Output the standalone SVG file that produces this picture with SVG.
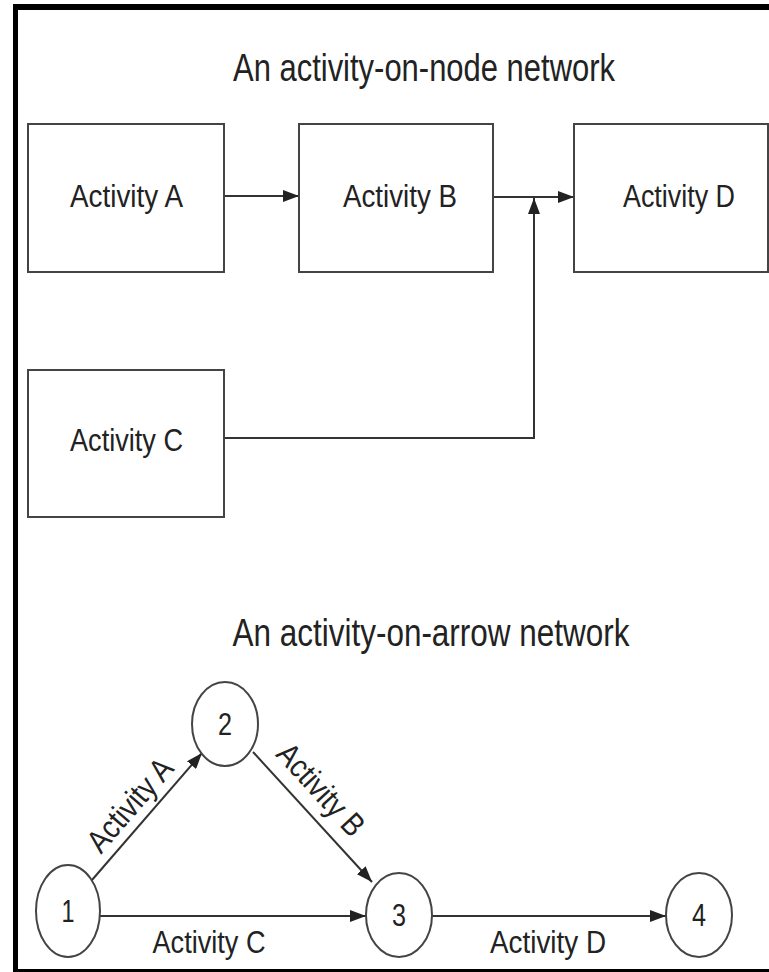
<svg xmlns="http://www.w3.org/2000/svg" width="769" height="972" viewBox="0 0 769 972">
<defs>
<marker id="arr" viewBox="0 0 16 12" refX="16" refY="6" markerWidth="16" markerHeight="12" markerUnits="userSpaceOnUse" orient="auto">
<path d="M0,0 L16,6 L0,12 Z" fill="#222"/>
</marker>
</defs>
<style>
text{font-family:"Liberation Sans Narrow","Liberation Sans",Arial,sans-serif;fill:#222;}
.title{font-size:38px;}
.lbl{font-size:32px;}
.num{font-size:32px;}
.box{fill:#fff;stroke:#444;stroke-width:2;}
.circ{fill:#fff;stroke:#444;stroke-width:2;}
.edge{fill:none;stroke:#333;stroke-width:2;}
.frame{stroke:#000;fill:none;}
</style>
<rect width="769" height="972" fill="#fff"/>
<g id="frame">
<line class="frame" x1="15.5" y1="4" x2="15.5" y2="972" stroke-width="5"/>
<line class="frame" x1="13" y1="7" x2="769" y2="7" stroke-width="6"/>
<line class="frame" x1="13" y1="970.5" x2="769" y2="970.5" stroke-width="3"/>
</g>
<text id="title1" class="title" x="424" y="81" text-anchor="middle" textLength="382" lengthAdjust="spacingAndGlyphs">An activity-on-node network</text>
<text id="title2" class="title" x="431" y="646" text-anchor="middle" textLength="397" lengthAdjust="spacingAndGlyphs">An activity-on-arrow network</text>
<g id="connectors">
<line class="edge" x1="224" y1="196" x2="299" y2="196" marker-end="url(#arr)"/>
<line class="edge" x1="493" y1="197" x2="574" y2="197" marker-end="url(#arr)"/>
<polyline class="edge" points="224,438 534,438 534,198" marker-end="url(#arr)"/>
<line class="edge" x1="92" y1="880" x2="202" y2="753" marker-end="url(#arr)"/>
<line class="edge" x1="253" y1="752" x2="372" y2="882" marker-end="url(#arr)"/>
<line class="edge" x1="100" y1="916" x2="366" y2="916" marker-end="url(#arr)"/>
<line class="edge" x1="432" y1="916" x2="666" y2="916" marker-end="url(#arr)"/>
<text class="lbl" x="0" y="0" text-anchor="middle" textLength="113" lengthAdjust="spacingAndGlyphs" transform="translate(138,812) rotate(-49)">Activity A</text>
<text class="lbl" x="0" y="0" text-anchor="middle" textLength="113" lengthAdjust="spacingAndGlyphs" transform="translate(313,797) rotate(47.5)">Activity B</text>
<text class="lbl" x="209" y="953" text-anchor="middle" textLength="113" lengthAdjust="spacingAndGlyphs">Activity C</text>
<text class="lbl" x="548" y="953" text-anchor="middle" textLength="116" lengthAdjust="spacingAndGlyphs">Activity D</text>
</g>
<g id="nodeA"><rect class="box" x="28" y="124" width="196" height="148"/><text class="lbl" x="126.5" y="207" text-anchor="middle" textLength="113" lengthAdjust="spacingAndGlyphs">Activity A</text></g>
<g id="nodeB"><rect class="box" x="299" y="124" width="194" height="148"/><text class="lbl" x="400" y="207" text-anchor="middle" textLength="114" lengthAdjust="spacingAndGlyphs">Activity B</text></g>
<g id="nodeD"><rect class="box" x="574" y="124" width="194" height="148"/><text class="lbl" x="679" y="207" text-anchor="middle" textLength="112" lengthAdjust="spacingAndGlyphs">Activity D</text></g>
<g id="nodeC"><rect class="box" x="28" y="370" width="196" height="147"/><text class="lbl" x="126.5" y="451" text-anchor="middle" textLength="113" lengthAdjust="spacingAndGlyphs">Activity C</text></g>
<g id="event1"><ellipse class="circ" cx="68" cy="911" rx="32" ry="46"/><text class="num" x="68" y="922" text-anchor="middle" textLength="13" lengthAdjust="spacingAndGlyphs">1</text></g>
<g id="event2"><ellipse class="circ" cx="225" cy="724" rx="33" ry="42"/><text class="num" x="225" y="735" text-anchor="middle" textLength="14" lengthAdjust="spacingAndGlyphs">2</text></g>
<g id="event3"><ellipse class="circ" cx="399" cy="915" rx="33" ry="42"/><text class="num" x="399" y="926" text-anchor="middle" textLength="14" lengthAdjust="spacingAndGlyphs">3</text></g>
<g id="event4"><ellipse class="circ" cx="699" cy="915" rx="33" ry="42"/><text class="num" x="699" y="926" text-anchor="middle" textLength="14" lengthAdjust="spacingAndGlyphs">4</text></g>
</svg>
